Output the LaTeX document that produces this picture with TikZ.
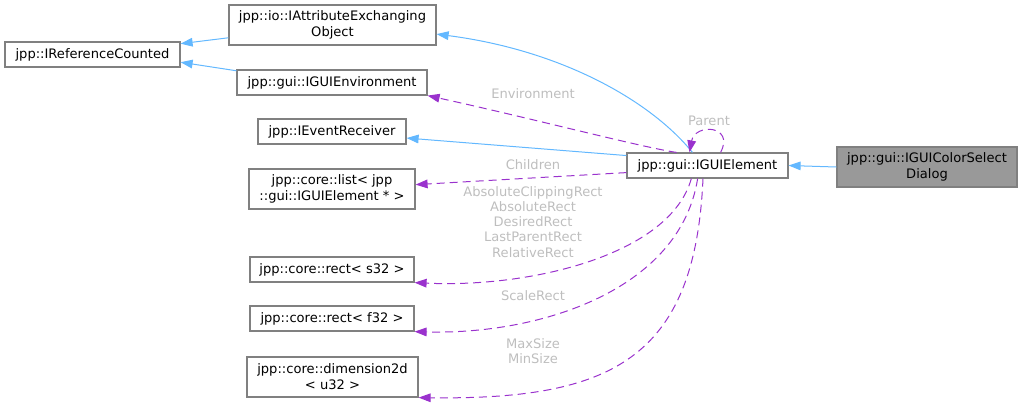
\documentclass[tikz,border=0pt]{standalone}
\usepackage{fontspec}
\setmainfont{DejaVu Sans}
\usetikzlibrary{arrows.meta}
\definecolor{edgeblue}{HTML}{63B8FF}
\definecolor{edgepurple}{HTML}{9A32CD}
\definecolor{lblgray}{HTML}{BEBEBE}
\definecolor{boxgray}{HTML}{808080}
\definecolor{selfill}{HTML}{999999}
\tikzset{
  cls/.style={draw=boxgray, line width=0.9pt, fill=white, inner sep=0pt, align=center,
    font=\fontsize{9.8}{12}\selectfont, text=black},
  inh/.style={draw=edgeblue, line width=0.75pt, -{Triangle[length=9pt,width=6.5pt]}},
  use/.style={draw=edgepurple, line width=0.75pt, dash pattern=on 6pt off 3.75pt,
    -{Triangle[length=9pt,width=6.5pt]}},
  lbl/.style={text=lblgray, align=center, inner sep=0pt, font=\fontsize{9.8}{11.3}\selectfont}
}
\begin{document}
\begin{tikzpicture}[x=0.75pt,y=-0.75pt]
\useasboundingbox (0,0) rectangle (1023,405);
\node[cls, minimum width=131.25pt, minimum height=18.75pt] (irc) at (92.5,54.5) {jpp::IReferenceCounted};
\node[cls, minimum width=155.25pt, minimum height=30pt] (iaeo) at (332.5,25) {jpp::io::IAttributeExchanging\\Object};
\node[cls, minimum width=142.5pt, minimum height=18.75pt] (ige) at (332,82.5) {jpp::gui::IGUIEnvironment};
\node[cls, minimum width=111pt, minimum height=18.75pt] (ier) at (332,131.5) {jpp::IEventReceiver};
\node[cls, minimum width=124.5pt, minimum height=30pt] (lst) at (332,189) {jpp::core::list< jpp\\::gui::IGUIElement * >};
\node[cls, minimum width=123pt, minimum height=18.75pt] (rs) at (332,269.5) {jpp::core::rect< s32 >};
\node[cls, minimum width=123pt, minimum height=18.75pt] (rf) at (332,318.5) {jpp::core::rect< f32 >};
\node[cls, minimum width=128.25pt, minimum height=30pt] (dim) at (332.5,377) {jpp::core::dimension2d\\< u32 >};
\node[cls, minimum width=120.75pt, minimum height=18.75pt] (gui) at (707.5,165.5) {jpp::gui::IGUIElement};
\node[cls, fill=selfill, minimum width=135pt, minimum height=30pt] (csd) at (927,167) {jpp::gui::IGUIColorSelect\\Dialog};

% inheritance
\draw[inh] (iaeo.187.2) -- (irc.7.5);
\draw[inh] (ige.173.7) -- (irc.-5.5);
\draw[inh] (gui.139.2) .. controls (650,100) and (560,50) .. (iaeo.-5.5);
\draw[inh] (gui.173.3) -- (ier.-5.8);
\draw[inh] (csd.west) -- (gui.east);

% usage
\draw[use] (gui.157.7) .. controls (645,148) and (530,118) .. (ige.south east);
\draw[use] (gui.45) .. controls (735,125) and (695,123) .. (gui.144.5);
\draw[use] (gui.185.3) -- (lst.3.4);
\draw[use] (gui.-141.1) .. controls (670,255) and (530,288) .. (rs.south east);
\draw[use] (gui.-127.2) .. controls (680,290) and (540,335) .. (rf.south east);
\draw[use] (gui.-109.8) .. controls (695,360) and (610,400) .. (dim.south east);

% labels
\node[lbl] (lenv) at (533,94) {Environment};
\node[lbl] (lpar) at (709,121) {Parent};
\node[lbl] (lchi) at (533,165) {Children};
\node[lbl] (lrect) at (533,222) {AbsoluteClippingRect\\AbsoluteRect\\DesiredRect\\LastParentRect\\RelativeRect};
\node[lbl] (lscale) at (533,296) {ScaleRect};
\node[lbl] (lsize) at (533,351) {MaxSize\\MinSize};
\end{tikzpicture}
\end{document}
